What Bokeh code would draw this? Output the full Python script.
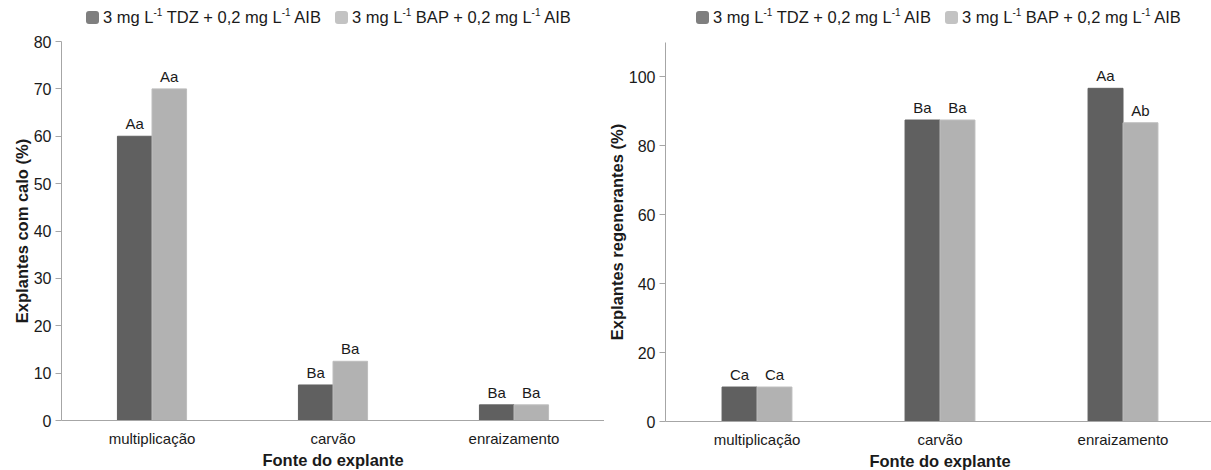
from bokeh.plotting import figure
from bokeh.models import FactorRange, ColumnDataSource, Div, FixedTicker
from bokeh.layouts import row, column
from bokeh.transform import dodge
from bokeh.embed import file_html
from bokeh.resources import INLINE
from bokeh.core.properties import value

categories = ["multiplicação", "carvão", "enraizamento"]
series_names = ["3 mg L-1 TDZ + 0,2 mg L-1 AIB", "3 mg L-1 BAP + 0,2 mg L-1 AIB"]

calo_tdz = [60, 7.5, 3.3]
calo_bap = [70, 12.5, 3.3]
calo_tdz_letters = ["Aa", "Ba", "Ba"]
calo_bap_letters = ["Aa", "Ba", "Ba"]

reg_tdz = [10, 87.5, 96.7]
reg_bap = [10, 87.5, 86.7]
reg_tdz_letters = ["Ca", "Ba", "Aa"]
reg_bap_letters = ["Ca", "Ba", "Ab"]

calo_ticks = [0, 10, 20, 30, 40, 50, 60, 70, 80]
reg_ticks = [0, 20, 40, 60, 80, 100]

DARK = "#606060"
LIGHT = "#b2b2b2"
LEG_DARK = "#7f7f7f"
LEG_LIGHT = "#c3c3c3"
FONT = "Liberation Sans"
TXT = "#1a1a1a"
AX = "#a6a6a6"
BW = 0.191
LEG_H = 28


def legend_div(width, pad):
    def item(color, label, ml):
        parts = label.split("L-1")
        html = parts[0]
        for p in parts[1:]:
            html += 'L<sup style="font-size:10px;vertical-align:7px;line-height:0">-1</sup>' + p
        return (f'<span style="display:inline-block;width:13px;height:13px;background:{color};'
                f'border-radius:3px;vertical-align:-1px;margin-left:{ml}px;margin-right:4px"></span>'
                f'<span>{html}</span>')
    html = (f'<div style="font-family:\'{FONT}\';font-size:16.5px;line-height:18px;color:{TXT};'
            f'white-space:nowrap;padding-left:{pad}px;padding-top:8px;">'
            + item(LEG_DARK, series_names[0], 0) + item(LEG_LIGHT, series_names[1], 14) + '</div>')
    return Div(text=html, width=width, height=LEG_H, margin=(0, 0, 0, 0))


def make_chart(fw, bl, bt, bb, ymax, ticks, tdz, bap, tl, bl_letters, ylabel):
    p = figure(x_range=FactorRange(*categories, range_padding=0), y_range=(0, ymax),
               frame_width=fw, frame_height=379, output_backend="svg", toolbar_location=None,
               min_border_left=bl, min_border_right=0, min_border_top=bt, min_border_bottom=bb)
    src = ColumnDataSource(dict(cat=categories, tdz=tdz, bap=bap, tl=tl, bl=bl_letters))
    p.vbar(x=dodge("cat", -BW / 2, range=p.x_range), top="tdz", width=BW, source=src,
           fill_color=DARK, line_color=DARK)
    p.vbar(x=dodge("cat", BW / 2, range=p.x_range), top="bap", width=BW, source=src,
           fill_color=LIGHT, line_color="#bdbdbd")
    for col, off in (("tl", -BW / 2), ("bl", BW / 2)):
        p.text(x=dodge("cat", off, range=p.x_range), y=("tdz" if col == "tl" else "bap"),
               text=col, source=src, text_align="center", text_baseline="bottom", y_offset=-4,
               text_font=value(FONT), text_font_size="15px", text_color=TXT)
    p.xgrid.visible = False
    p.ygrid.visible = False
    p.outline_line_color = None
    p.yaxis.ticker = FixedTicker(ticks=ticks)
    p.yaxis.minor_tick_line_color = None
    p.yaxis.major_tick_in = 0
    p.yaxis.major_tick_out = 6
    p.yaxis.major_tick_line_color = AX
    p.yaxis.axis_line_color = AX
    p.yaxis.major_label_text_font = FONT
    p.yaxis.major_label_text_font_size = "16px"
    p.yaxis.major_label_text_color = TXT
    p.yaxis.major_label_standoff = 4
    p.yaxis.axis_label = ylabel
    p.yaxis.axis_label_text_font = FONT
    p.yaxis.axis_label_text_font_style = "bold"
    p.yaxis.axis_label_text_font_size = "16.5px"
    p.yaxis.axis_label_text_color = TXT
    p.yaxis.axis_label_standoff = 0
    p.xaxis.axis_line_color = AX
    p.xaxis.major_tick_line_color = None
    p.xaxis.major_label_text_font = FONT
    p.xaxis.major_label_text_font_size = "15px"
    p.xaxis.major_label_text_color = TXT
    p.xaxis.major_label_standoff = 3
    p.xaxis.axis_label = "Fonte do explante"
    p.xaxis.axis_label_text_font = FONT
    p.xaxis.axis_label_text_font_style = "bold"
    p.xaxis.axis_label_text_font_size = "16.5px"
    p.xaxis.axis_label_text_color = TXT
    p.xaxis.axis_label_standoff = 1
    return p


left = make_chart(543, 61, 41 - LEG_H, 470 - 420, 80, calo_ticks, calo_tdz, calo_bap,
                  calo_tdz_letters, calo_bap_letters, "Explantes com calo (%)")
right = make_chart(549, 58, 42 - LEG_H, 470 - 421, 110, reg_ticks, reg_tdz, reg_bap,
                   reg_tdz_letters, reg_bap_letters, "Explantes regenerantes (%)")

layout = row(column(legend_div(604, 86), left, spacing=0),
             column(legend_div(607, 92), right, spacing=0), spacing=0)

open("out.html", "w").write(file_html(layout, INLINE))
